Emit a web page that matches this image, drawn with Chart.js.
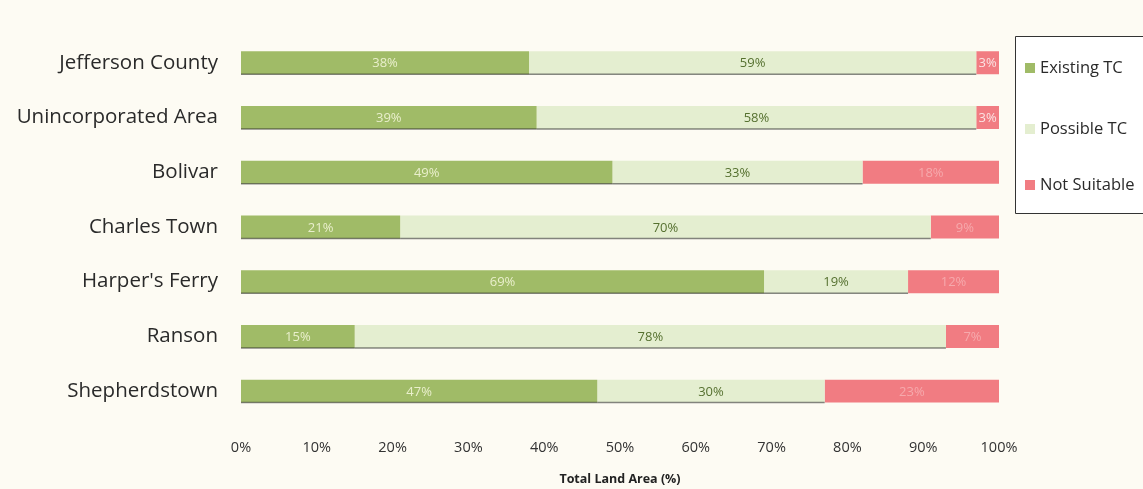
<!DOCTYPE html>
<html>
<head>
<meta charset="utf-8">
<script src="https://cdn.jsdelivr.net/npm/chart.js@4/dist/chart.umd.min.js"></script>
<style>
  html, body { margin: 0; padding: 0; background: #fdfbf3; }
  #wrap { width: 1143px; height: 489px; position: relative; }
</style>
</head>
<body>
<div id="wrap"><canvas id="c" width="1143" height="489"></canvas></div>
<script>
const categories = ["Jefferson County", "Unincorporated Area", "Bolivar", "Charles Town", "Harper's Ferry", "Ranson", "Shepherdstown"];
const existingTC = [38, 39, 49, 21, 69, 15, 47];
const possibleTC = [59, 58, 33, 70, 19, 78, 30];
const notSuitable = [3, 3, 18, 9, 12, 7, 23];
const seriesNames = ["Existing TC", "Possible TC", "Not Suitable"];
const xTicks = [0, 10, 20, 30, 40, 50, 60, 70, 80, 90, 100];
const axisTitle = "Total Land Area (%)";

const colors = ["#a0bb67", "#e4eed0", "#f17c82"];
const labelColors = ["#e9efcc", "#55702f", "#f6a9ac"];
const FONT = "'Open Sans', Lato, sans-serif";

const valueLabels = {
  id: 'valueLabels',
  afterDatasetsDraw(chart) {
    const ctx = chart.ctx;
    ctx.save();
    ctx.font = "13px " + FONT;
    ctx.textAlign = 'center';
    ctx.textBaseline = 'middle';
    chart.data.datasets.forEach((ds, di) => {
      const meta = chart.getDatasetMeta(di);
      meta.data.forEach((bar, i) => {
        const v = ds.data[i];
        const x0 = Math.min(bar.base, bar.x), x1 = Math.max(bar.base, bar.x);
        ctx.fillStyle = (di === 2 && v < 5) ? '#fbe3e3' : labelColors[di];
        ctx.fillText(v + "%", (x0 + x1) / 2, bar.y + 1);
      });
    });
    ctx.restore();
  }
};

const barShadow = {
  id: 'barShadow',
  afterDatasetsDraw(chart) {
    const ctx = chart.ctx;
    ctx.save();
    ctx.strokeStyle = 'rgba(40,40,40,0.55)';
    ctx.lineWidth = 1.5;
    chart.data.datasets.forEach((ds, di) => {
      if (di === 2) return;
      const meta = chart.getDatasetMeta(di);
      meta.data.forEach((bar) => {
        const x0 = Math.min(bar.base, bar.x), x1 = Math.max(bar.base, bar.x);
        const yb = bar.y + bar.height / 2;
        ctx.beginPath();
        ctx.moveTo(x0, yb);
        ctx.lineTo(x1, yb);
        ctx.stroke();
      });
    });
    ctx.restore();
  }
};

const customLegend = {
  id: 'customLegend',
  afterDraw(chart) {
    const ctx = chart.ctx;
    ctx.save();
    const bx = 1015, by = 36, bw = 140, bh = 177;
    ctx.fillStyle = '#ffffff';
    ctx.fillRect(bx, by, bw, bh);
    ctx.strokeStyle = '#333';
    ctx.lineWidth = 1;
    ctx.beginPath();
    ctx.moveTo(bx + 0.5, by + 0.5); ctx.lineTo(bx + bw, by + 0.5);
    ctx.moveTo(bx + 0.5, by + 0.5); ctx.lineTo(bx + 0.5, by + bh + 0.5);
    ctx.moveTo(bx + 0.5, by + bh + 0.5); ctx.lineTo(bx + bw, by + bh + 0.5);
    ctx.stroke();
    ctx.font = "16.5px " + FONT;
    ctx.textBaseline = 'middle';
    ctx.textAlign = 'left';
    const ys = [68, 129, 185];
    seriesNames.forEach((n, i) => {
      ctx.fillStyle = colors[i];
      ctx.fillRect(1025, ys[i] - 5, 10, 10);
      ctx.fillStyle = '#2a2a2a';
      ctx.fillText(n, 1040, ys[i]);
    });
    ctx.restore();
  }
};

new Chart(document.getElementById('c'), {
  type: 'bar',
  data: {
    labels: categories,
    datasets: [
      { label: seriesNames[0], data: existingTC, backgroundColor: colors[0], barPercentage: 0.84, categoryPercentage: 0.5 },
      { label: seriesNames[1], data: possibleTC, backgroundColor: colors[1], barPercentage: 0.84, categoryPercentage: 0.5 },
      { label: seriesNames[2], data: notSuitable, backgroundColor: colors[2], barPercentage: 0.84, categoryPercentage: 0.5 }
    ]
  },
  options: {
    indexAxis: 'y',
    responsive: false,
    animation: false,
    devicePixelRatio: 1,
    layout: { padding: { top: 33.5, right: 144, bottom: 0, left: 0 } },
    plugins: { legend: { display: false }, tooltip: { enabled: false } },
    scales: {
      x: {
        stacked: true, min: 0, max: 100,
        afterBuildTicks(axis) { axis.ticks = xTicks.map(v => ({ value: v })); },
        afterFit(axis) { axis.height = 70.5; },
        grid: { display: false, drawTicks: false },
        border: { display: false },
        ticks: { color: '#333', font: { family: FONT, size: 14.5 }, padding: 21, maxRotation: 0, callback: v => v + '%' },
        title: { display: true, text: axisTitle, color: '#222', font: { family: FONT, size: 12.5, weight: 'bold' }, padding: { top: 4, bottom: 2 } }
      },
      y: {
        stacked: true,
        afterFit(axis) { axis.width = 241; },
        grid: { display: false, drawTicks: false },
        border: { display: false },
        ticks: { color: '#2a2a2a', font: { family: FONT, size: 20.5 }, padding: 23 }
      }
    }
  },
  plugins: [valueLabels, barShadow, customLegend]
});
</script>
</body>
</html>
